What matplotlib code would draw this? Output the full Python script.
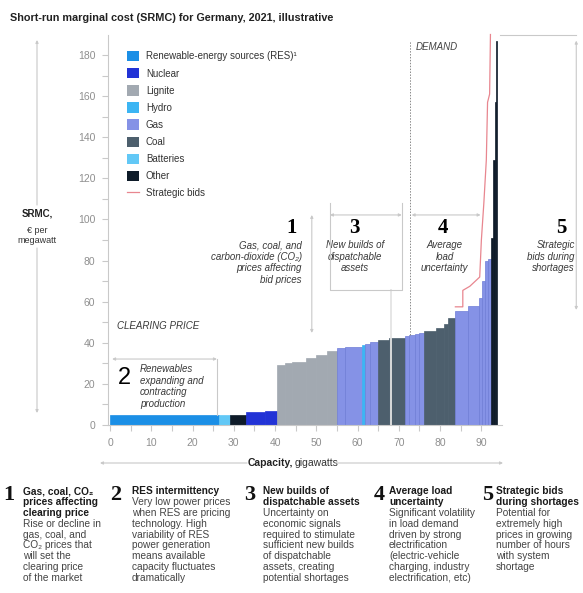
import matplotlib.pyplot as plt
from matplotlib.patches import Patch, FancyArrowPatch
from matplotlib.lines import Line2D
import numpy as np

plt.rcParams['font.family'] = ['Liberation Sans', 'DejaVu Sans']

# merit order blocks: technology, capacity (GW), short-run marginal cost (EUR per MW)
seg_tech = ['RES', 'Batteries', 'Other', 'Nuclear', 'Nuclear',
            'Lignite', 'Lignite', 'Lignite', 'Lignite', 'Lignite', 'Lignite',
            'Gas', 'Gas', 'Hydro', 'Gas', 'Gas', 'Coal', 'Coal',
            'Gas', 'Gas', 'Gas', 'Gas', 'Coal', 'Coal', 'Coal', 'Coal',
            'Gas', 'Gas', 'Gas', 'Gas', 'Gas', 'Gas',
            'Other', 'Other', 'Other', 'Other']
seg_gw = [26.5, 2.5, 4.0, 4.5, 3.0,
          2.0, 1.5, 3.5, 2.5, 2.5, 2.5,
          2.0, 4.0, 0.8, 1.2, 2.0, 2.6, 3.9,
          1.0, 1.5, 1.0, 1.0, 3.0, 2.0, 1.0, 1.5,
          3.2, 2.8, 0.7, 0.6, 0.7, 0.8,
          0.5, 0.4, 0.3, 0.3]
seg_cost = [5, 5, 5, 6.5, 7,
            29, 30, 30.5, 32.5, 34, 36,
            37.5, 38, 39, 39.5, 40.5, 41.5, 42.5,
            43.5, 44, 44.5, 45, 45.5, 47, 49, 52,
            55.5, 58, 62, 70, 80, 81,
            91, 129, 157, 187]

# strategic bids curve
bid_gw = [83.7, 85.5, 85.5, 87.2, 89.6, 90.0, 90.6, 91.2, 91.5, 92.0, 92.2]
bid_cost = [57.5, 57.5, 65.5, 67.5, 72, 90, 108, 129, 157, 161, 190]

demand_gw = 72.6
new_build_gw = 68.0

legend_labels = ['Renewable-energy sources (RES)\u00b9', 'Nuclear', 'Lignite', 'Hydro',
                 'Gas', 'Coal', 'Batteries', 'Other']
legend_keys = ['RES', 'Nuclear', 'Lignite', 'Hydro', 'Gas', 'Coal', 'Batteries', 'Other']

colors = {'RES': '#1b8fe6', 'Nuclear': '#2233d6', 'Lignite': '#a2a9b1',
          'Hydro': '#3cb5f3', 'Gas': '#8592e6', 'Coal': '#4d5f6d',
          'Batteries': '#62c8f6', 'Other': '#0e1b29'}
bid_color = '#e8868f'
line_grey = '#c9c9c9'

W, H = 583, 593
fig = plt.figure(figsize=(W / 100, H / 100), dpi=100)
ax = fig.add_axes([108 / W, 1 - 425 / H, (502 - 108) / W, (425 - 34.5) / H])


def fx(x):
    return x / W


def fy(y):
    return 1 - y / H


left = np.concatenate([[0], np.cumsum(seg_gw)[:-1]])
face = [colors[t] for t in seg_tech]
edge = ['#6f7dd6' if t == 'Gas' else colors[t] for t in seg_tech]
ax.bar(left, seg_cost, width=seg_gw, align='edge', color=face,
       edgecolor=edge, linewidth=0.5, zorder=2)

ax.plot(bid_gw, bid_cost, color=bid_color, lw=0.9, zorder=3, clip_on=False)

ax.set_xlim(-0.5, 95)
ax.set_ylim(0, 190)
ax.set_xticks(np.arange(0, 91, 10))
ax.set_xticks(np.arange(0, 95, 5), minor=True)
ax.set_yticks(np.arange(0, 181, 20))
ax.set_yticks(np.arange(0, 181, 10), minor=True)
ax.tick_params(which='both', colors=line_grey, labelcolor='#8f8f8f', labelsize=7.5, length=4, width=0.8)
ax.tick_params(axis='x', pad=5)
ax.tick_params(axis='y', pad=5)
for s in ['top', 'right']:
    ax.spines[s].set_visible(False)
for s in ['left', 'bottom']:
    ax.spines[s].set_color(line_grey)
    ax.spines[s].set_linewidth(0.8)

# demand line down to the bar it crosses
idx = np.searchsorted(np.cumsum(seg_gw), demand_gw)
ax.plot([demand_gw, demand_gw], [seg_cost[idx], 187], color='#8a8a8a', lw=0.7,
        ls=(0, (1.5, 1.5)), zorder=3)
ax.text(demand_gw + 1.5, 184, 'DEMAND', fontsize=7, style='italic', color='#444444', va='center')

# white gap marking new dispatchable builds
ax.plot([new_build_gw, new_build_gw], [0, 65.7], color='#e4e4e4', lw=1.3, zorder=4)


def arrow(p0, p1, style='<|-|>', transform=None):
    kw = dict(arrowstyle=style, mutation_scale=4, color=line_grey, lw=0.8,
              shrinkA=0, shrinkB=0, clip_on=False, zorder=5)
    if transform is not None:
        fig.add_artist(FancyArrowPatch(p0, p1, transform=transform, **kw))
    else:
        ax.add_patch(FancyArrowPatch(p0, p1, **kw))


def seg(xs, ys):
    ax.plot(xs, ys, color=line_grey, lw=0.8, clip_on=False, zorder=5)


note_kw = dict(fontsize=7, style='italic', color='#3a3a3a', linespacing=1.2, va='top')
num_kw = dict(fontsize=15, family=['Liberation Serif', 'DejaVu Serif'], weight='bold', va='center')

# 1 - fuel prices
arrow((48.9, 102.2), (48.9, 44.8))
ax.text(45.3, 95.9, '1', ha='right', **num_kw)
ax.text(46.5, 90.0, 'Gas, coal, and\ncarbon-dioxide (CO\u2082)\nprices affecting\nbid prices', ha='right', **note_kw)

# 2 - renewables
arrow((0.5, 32.1), (25.9, 32.1))
seg([25.9, 25.9], [5, 32.1])
ax.text(3.6, 22.9, '2', ha='center', fontsize=17, va='center')
ax.text(7.3, 29.7, 'Renewables\nexpanding and\ncontracting\nproduction', ha='left', **note_kw)
ax.text(1.7, 48.2, 'CLEARING PRICE', fontsize=7, style='italic', color='#3a3a3a', va='center')

# 3 - new builds
arrow((53.3, 102.2), (70.7, 102.2))
seg([53.3, 53.3, 70.7, 70.7], [108, 65.7, 65.7, 108])
ax.text(59.3, 95.9, '3', ha='center', **num_kw)
ax.text(59.3, 90.0, 'New builds of\ndispatchable\nassets', ha='center', **note_kw)

# 4 - load uncertainty
arrow((73.1, 102.2), (89.8, 102.2))
ax.text(80.6, 95.9, '4', ha='center', **num_kw)
ax.text(81.1, 90.0, 'Average\nload\nuncertainty', ha='center', **note_kw)

# 5 - strategic bids
seg([94.4, 113], [190, 190])
arrow((113, 187), (113, 56))
ax.text(109.4, 95.9, '5', ha='center', **num_kw)
ax.text(112.6, 90.0, 'Strategic\nbids during\nshortages', ha='right', **note_kw)

# legend
handles = [Patch(facecolor=colors[k], edgecolor='none') for k in legend_keys]
handles.append(Line2D([], [], color=bid_color, lw=0.9))
ax.legend(handles, legend_labels + ['Strategic bids'], loc='upper left',
          bbox_to_anchor=(fx(127), fy(51)), bbox_transform=fig.transFigure,
          frameon=False, fontsize=7, handlelength=1.25, handleheight=1.25,
          handletextpad=0.7, labelspacing=0.69, borderpad=0, borderaxespad=0,
          labelcolor='#333333')

# title and axis labels
fig.text(fx(10), fy(18), 'Short-run marginal cost (SRMC) for Germany, 2021, illustrative',
         fontsize=7.8, weight='bold', color='#222222', va='center')

arrow((fx(37), fy(205)), (fx(37), fy(40)), style='-|>', transform=fig.transFigure)
arrow((fx(37), fy(248)), (fx(37), fy(413)), style='-|>', transform=fig.transFigure)
fig.text(fx(37), fy(213), 'SRMC,', fontsize=7, weight='bold', ha='center', va='center', color='#222222')
fig.text(fx(37), fy(226), '\u20ac per\nmegawatt', fontsize=6.5, ha='center', va='top',
         color='#333333', linespacing=1.1)

arrow((fx(247), fy(463)), (fx(100), fy(463)), style='-|>', transform=fig.transFigure)
arrow((fx(335), fy(463)), (fx(503), fy(463)), style='-|>', transform=fig.transFigure)
fig.text(fx(293), fy(463), 'Capacity,', fontsize=7.5, weight='bold', ha='right', va='center', color='#222222')
fig.text(fx(295), fy(463), 'gigawatts', fontsize=7.5, ha='left', va='center', color='#333333')

# footnotes
notes = [
    ('1', 9, 23, ['Gas, coal, CO\u2082', 'prices affecting', 'clearing price'],
     ['Rise or decline in', 'gas, coal, and', 'CO\u2082 prices that', 'will set the',
      'clearing price', 'of the market']),
    ('2', 116, 132, ['RES intermittency'],
     ['Very low power prices', 'when RES are pricing', 'technology. High',
      'variability of RES', 'power generation', 'means available',
      'capacity fluctuates', 'dramatically']),
    ('3', 250, 263, ['New builds of', 'dispatchable assets'],
     ['Uncertainty on', 'economic signals', 'required to stimulate',
      'sufficient new builds', 'of dispatchable', 'assets, creating',
      'potential shortages']),
    ('4', 379, 389, ['Average load', 'uncertainty'],
     ['Significant volatility', 'in load demand', 'driven by strong',
      'electrification', '(electric-vehicle', 'charging, industry',
      'electrification, etc)']),
    ('5', 488, 496, ['Strategic bids', 'during shortages'],
     ['Potential for', 'extremely high', 'prices in growing',
      'number of hours', 'with system', 'shortage']),
]
for num, nx, tx, title_lines, body_lines in notes:
    fig.text(fx(nx), fy(495), num, ha='center', fontsize=16, weight='bold',
             family=['Liberation Serif', 'DejaVu Serif'], va='center', color='#111111')
    y = 491.5
    for line in title_lines:
        fig.text(fx(tx), fy(y), line, fontsize=7.3, weight='bold', va='center', color='#1a1a1a')
        y += 10.8
    for line in body_lines:
        fig.text(fx(tx), fy(y), line, fontsize=7.3, va='center', color='#444444')
        y += 10.8

fig.savefig('out.png', dpi=100, facecolor='white')
